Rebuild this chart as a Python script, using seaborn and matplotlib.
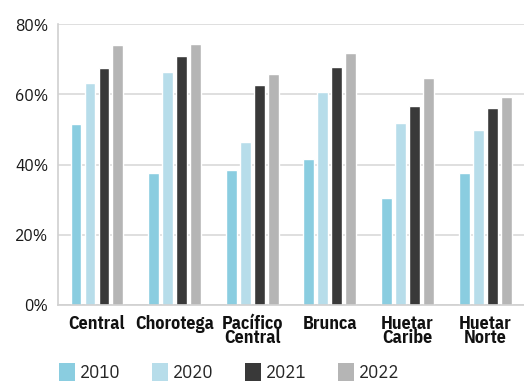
import matplotlib
matplotlib.use("Agg")
import matplotlib.pyplot as plt
import seaborn as sns
import pandas as pd
from matplotlib.patches import Patch
from matplotlib.ticker import FixedLocator, PercentFormatter

regions = ["Central", "Chorotega", "Pacífico\nCentral", "Brunca", "Huetar\nCaribe", "Huetar\nNorte"]
years = ["2010", "2020", "2021", "2022"]
v2010 = [51.5, 37.7, 38.6, 41.7, 30.4, 37.7]
v2020 = [63.3, 66.3, 46.4, 60.7, 51.9, 49.8]
v2021 = [67.4, 70.9, 62.6, 67.8, 56.6, 56.0]
v2022 = [74.0, 74.5, 65.7, 71.9, 64.7, 59.3]
colors = ["#8ACDE0", "#B7DDEA", "#393939", "#B5B5B5"]

rows = []
for yr, vals in zip(years, [v2010, v2020, v2021, v2022]):
    for r, v in zip(regions, vals):
        rows.append({"region": r, "year": yr, "value": v})
df = pd.DataFrame(rows)

sns.set_theme(style="white")
plt.rcParams['font.family'] = ['IBM Plex Sans Condensed', 'DejaVu Sans']

fig = plt.figure(figsize=(5.24, 3.83), dpi=100)
ax = fig.add_axes([0.111, 0.2037, 0.889, 0.733])

sns.barplot(data=df, x="region", y="value", hue="year", order=regions, hue_order=years,
            palette=colors, width=0.72, gap=0.22, ax=ax, legend=False, saturation=1)

ax.set_xlim(-0.5, 5.5)
ax.set_ylim(0, 80)
ax.set_yticks([0, 20, 40, 60, 80])
ax.yaxis.set_major_formatter(PercentFormatter(decimals=0))
ax.yaxis.grid(True, color="#D9D9D9", linewidth=1.2)
ax.set_axisbelow(True)
ax.set_xlabel("")
ax.set_ylabel("")

for s in ["top", "right"]:
    ax.spines[s].set_visible(False)
for s in ["left", "bottom"]:
    ax.spines[s].set_color("#D0D0D0")
    ax.spines[s].set_linewidth(1.2)

ax.tick_params(axis="y", length=5, color="#D0D0D0", width=1.2, labelsize=12.5, pad=2, labelcolor="#1A1A1A")
ax.tick_params(axis="x", which="major", length=0, pad=7)
ax.xaxis.set_minor_locator(FixedLocator([i - 0.5 for i in range(7)]))
ax.tick_params(axis="x", which="minor", length=5, color="#D0D0D0", width=1.2)
for lab in ax.get_xticklabels():
    lab.set_fontweight("bold")
    lab.set_fontsize(13)
    lab.set_linespacing(0.75)
    lab.set_color("#111111")

handles = [Patch(facecolor=c, edgecolor="none") for c in colors]
fig.legend(handles, years, loc="lower left", bbox_to_anchor=(0.098, -0.018), ncol=4,
           frameon=False, fontsize=13.5, handlelength=0.85, handleheight=1.05,
           handletextpad=0.25, columnspacing=1.7, borderaxespad=0)

fig.savefig("out.png", dpi=100)
